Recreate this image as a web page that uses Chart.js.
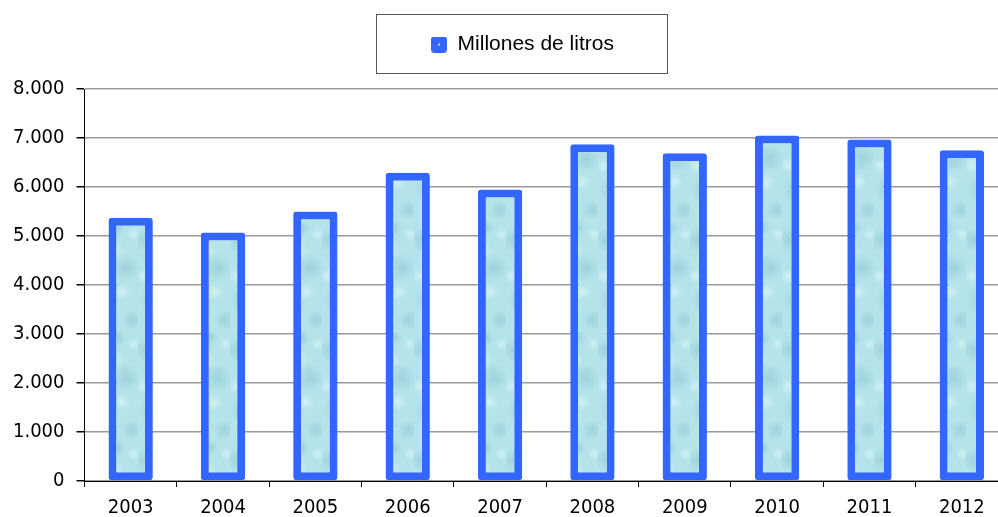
<!DOCTYPE html>
<html>
<head>
<meta charset="utf-8">
<script src="https://cdn.jsdelivr.net/npm/chart.js@4.4.1/dist/chart.umd.min.js"></script>
<style>
  html, body { margin: 0; padding: 0; background: #fff; overflow: hidden; }
  #wrap { width: 1010px; height: 517px; }
</style>
</head>
<body>
<div id="wrap"><canvas id="myChart"></canvas></div>
<script>
var years = ["2003", "2004", "2005", "2006", "2007", "2008", "2009", "2010", "2011", "2012"];
var litros = [5370, 5070, 5500, 6290, 5950, 6870, 6690, 7050, 6970, 6750];
var yTickLabels = ["0", "1.000", "2.000", "3.000", "4.000", "5.000", "6.000", "7.000", "8.000"];

// water-like fill for the bars
function waterPattern() {
	var c = document.createElement('canvas');
	c.width = 46; c.height = 110;
	var g = c.getContext('2d');
	g.fillStyle = '#b4e3ea';
	g.fillRect(0, 0, 46, 110);
	// soft darker patches
	var dark = [[8, 20, 12], [34, 48, 14], [14, 80, 13], [40, 100, 10], [26, 8, 8]];
	dark.forEach(function (d) {
		var rg = g.createRadialGradient(d[0], d[1], 0, d[0], d[1], d[2]);
		rg.addColorStop(0, 'rgba(130,190,202,0.45)');
		rg.addColorStop(1, 'rgba(130,190,202,0)');
		g.fillStyle = rg;
		g.fillRect(0, 0, 46, 110);
	});
	// light highlights
	var light = [[22, 30, 10], [6, 56, 8], [30, 72, 9], [20, 100, 7], [42, 14, 7]];
	light.forEach(function (d) {
		var rg = g.createRadialGradient(d[0], d[1], 0, d[0], d[1], d[2]);
		rg.addColorStop(0, 'rgba(225,248,250,0.6)');
		rg.addColorStop(1, 'rgba(225,248,250,0)');
		g.fillStyle = rg;
		g.fillRect(0, 0, 46, 110);
	});
	return g.createPattern(c, 'repeat');
}

// legend marker
function legendMarker() {
	var c = document.createElement('canvas');
	c.width = 16; c.height = 16;
	var g = c.getContext('2d');
	g.fillStyle = '#3366ff';
	g.beginPath();
	g.roundRect(0, 0, 16, 16, 3);
	g.fill();
	g.fillStyle = '#cfe6ff';
	g.fillRect(7, 7, 2, 2);
	return c;
}

var legendBox = {
	id: 'legendBox',
	beforeInit: function (chart) {
		var lg = chart.legend;
		var orig = lg.fit;
		lg.fit = function () {
			orig.call(this);
			this.height = 89;
		};
	},
	afterLayout: function (chart) {
		chart.legend.left += 18;
		chart.legend.right += 18;
	},
	afterDraw: function (chart) {
		var lg = chart.legend;
		var cx = Math.round((lg.left + lg.right) / 2 - 1);
		var ctx = chart.ctx;
		ctx.save();
		ctx.strokeStyle = '#555';
		ctx.lineWidth = 1;
		ctx.strokeRect(cx - 145.5, 14.5, 291, 59);
		ctx.restore();
	}
};

var ctx = document.getElementById("myChart").getContext('2d');
var myChart = new Chart(ctx, {
	type: 'bar',
	data: {
		labels: years,
		datasets: [{
			label: "Millones de litros",
			data: litros,
			backgroundColor: waterPattern(),
			borderColor: "#3366ff",
			borderWidth: 8,
			borderRadius: 3,
			borderSkipped: false,
			categoryPercentage: 1,
			barPercentage: 0.48
		}]
	},
	options: {
		responsive: true,
		maintainAspectRatio: false,
		animation: false,
		events: [],
		layout: { padding: { left: 1, right: 2, top: 0, bottom: -12 } },
		plugins: {
			tooltip: { enabled: false },
			legend: {
				position: 'top',
				labels: {
					usePointStyle: true,
					pointStyle: legendMarker(),
					boxWidth: 16,
					boxHeight: 16,
					padding: 34,
					color: '#000',
					font: { family: "'Liberation Sans', Arial, sans-serif", size: 21 }
				}
			}
		},
		scales: {
			x: {
				grid: {
					display: true,
					offset: true,
					drawOnChartArea: false,
					tickLength: 6,
					tickColor: '#000'
				},
				border: { color: '#000', width: 1 },
				ticks: {
					padding: 11,
					color: '#000',
					maxRotation: 0,
					font: { family: "'DejaVu Sans Condensed', 'DejaVu Sans', sans-serif", size: 20, lineHeight: 1 }
				}
			},
			y: {
				min: 0,
				max: 8000,
				grid: {
					color: '#9a9a9a',
					lineWidth: 1.5,
					tickLength: 8,
					tickColor: '#000'
				},
				border: { color: '#000', width: 1 },
				ticks: {
					stepSize: 1000,
					padding: 12,
					color: '#000',
					font: { family: "'DejaVu Sans Condensed', 'DejaVu Sans', sans-serif", size: 20, lineHeight: 1 },
					callback: function (v) { return yTickLabels[v / 1000]; }
				}
			}
		}
	},
	plugins: [legendBox]
});
</script>
</body>
</html>
